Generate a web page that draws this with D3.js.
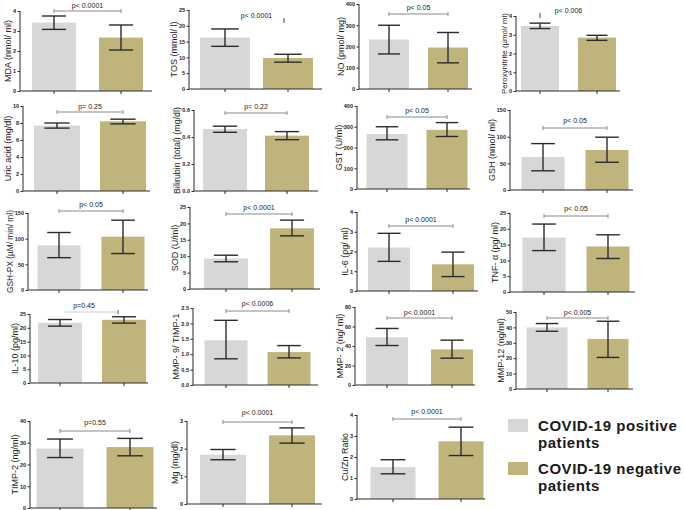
<!DOCTYPE html>
<html><head><meta charset="utf-8">
<script src="https://cdn.jsdelivr.net/npm/d3@7"></script>
<style>
body{margin:0;background:#fff;}
svg{display:block;font-family:"Liberation Sans",Arial,sans-serif;}
</style></head>
<body><svg id="c" width="685" height="510"></svg>
<script>
// ---------- data ----------
const groups = ["COVID-19 positive patients", "COVID-19 negative patients"];
const yLabels = ["MDA (nmol/ ml)", "TOS (mmol/ l)", "NO (pmol/ mg)", "Peroxynitrite (\u00b5mol/ ml)",
  "Uric acid (mg/dl)", "Bilirubin (total) (mg/dl)", "GST (U/ml)", "GSH (nmol/ ml)",
  "GSH-PX (\u00b5M/ min/ ml)", "SOD (U/ml)", "IL-6 (pg/ ml)", "TNF- \u03b1 (pg/ ml)",
  "IL-10 (pg/ml)", "MMP- 9/ TIMP-1", "MMP- 2 (ng/ ml)", "MMP-12 (ng/ml)",
  "TIMP-2 (ng/ml)", "Mg (mg/dl)", "Cu/Zn Ratio"];
const yMax  = [4, 25, 400, 4, 10, 0.6, 400, 150, 150, 25, 4, 25, 25, 2.5, 80, 50, 40, 3, 4];
const yStep = [1, 5, 100, 1, 2, 0.2, 100, 50, 50, 5, 1, 5, 5, 0.5, 20, 10, 10, 1, 1];
const tickFormats = ["d","d","d","d","d",".1f","d","d","d","d","d","d","d",".1f","d","d","d","d","d"];
const posMean = [3.42, 16.3, 233, 3.47, 7.7, 0.46, 265, 62, 87, 9.3, 2.2, 17.2, 21.8, 1.45, 49, 40, 27.3, 1.78, 1.52];
const posLo   = [3.08, 13.5, 165, 3.33, 7.4, 0.435, 237, 36, 63, 8.3, 1.5, 13.1, 20.6, 0.85, 40.5, 37.5, 23.2, 1.6, 1.2];
const posHi   = [3.75, 19.0, 300, 3.62, 8.0, 0.48, 300, 87, 112, 10.3, 2.92, 21.5, 23.0, 2.1, 58, 42.5, 31.7, 1.97, 1.87];
const negMean = [2.67, 9.8, 195, 2.85, 8.2, 0.41, 285, 75, 104, 18.5, 1.35, 14.4, 22.9, 1.07, 36.5, 32.5, 28.0, 2.48, 2.75];
const negLo   = [2.05, 8.5, 123, 2.7, 7.9, 0.38, 253, 52, 71, 16.2, 0.73, 10.6, 21.7, 0.88, 27.5, 20.5, 24.0, 2.2, 2.07];
const negHi   = [3.3, 11.0, 266, 2.97, 8.45, 0.44, 320, 99, 136, 21.0, 1.97, 18.1, 24.0, 1.28, 46, 44, 32, 2.75, 3.42];
const pTexts  = ["p< 0.0001", "p< 0.0001", "p< 0.05", "p< 0.006", "p= 0.25", "p= 0.22", "p< 0.05", "p< 0.05",
  "p< 0.05", "p< 0.0001", "p< 0.0001", "p< 0.05", "p=0.45", "p< 0.0006", "p< 0.0001", "p< 0.005",
  "p=0.55", "p< 0.0001", "p< 0.0001"];
const bracketKind = ["full","mark2","full","mark1","full","full","full","full","full","full","full","full",
  "faint","full","full","full","full","full","full"];
const legendLines = [["COVID-19 positive", "patients"], ["COVID-19 negative", "patients"]];

// ---------- layout (pixel geometry, separate from data) ----------
const layout = [
  {ax:20, c1:54, c2:121, bw:44, xe:152, yt:11, y0:91, by:11, ty:8},
  {ax:189,c1:225,c2:288, bw:50, xe:322, yt:10, y0:89, by:21, ty:18},
  {ax:359,c1:389,c2:448, bw:40, xe:472, yt:4,  y0:89, by:14, ty:10},
  {ax:516,c1:540,c2:597, bw:38, xe:620, yt:16, y0:91, by:16, ty:13},
  {ax:23, c1:57, c2:123, bw:46, xe:150, yt:106,y0:191,by:112,ty:109},
  {ax:194,c1:225,c2:287, bw:44, xe:318, yt:110,y0:191,by:113,ty:109},
  {ax:357,c1:387,c2:447, bw:41, xe:470, yt:106,y0:189,by:117,ty:113},
  {ax:510,c1:543,c2:607, bw:43, xe:633, yt:110,y0:190,by:128,ty:123},
  {ax:28, c1:59, c2:123, bw:43, xe:148, yt:213,y0:290,by:211,ty:207},
  {ax:190,c1:226,c2:292, bw:44, xe:320, yt:207,y0:289,by:214,ty:210},
  {ax:357,c1:389,c2:453, bw:42, xe:478, yt:212,y0:291,by:226,ty:222},
  {ax:510,c1:544,c2:608, bw:43, xe:635, yt:213,y0:292,by:216,ty:211},
  {ax:30, c1:60, c2:124, bw:44, xe:148, yt:314,y0:383,by:312,ty:308},
  {ax:193,c1:226,c2:289, bw:43, xe:318, yt:308,y0:385,by:311,ty:306},
  {ax:355,c1:387,c2:452, bw:42, xe:475, yt:307,y0:385,by:318,ty:315},
  {ax:516,c1:547,c2:608, bw:41, xe:633, yt:312,y0:389,by:318,ty:315},
  {ax:30, c1:60, c2:130, bw:47, xe:157, yt:421,y0:508,by:431,ty:425},
  {ax:187,c1:223,c2:292, bw:46, xe:322, yt:421,y0:504,by:422,ty:415},
  {ax:357,c1:393,c2:461, bw:45, xe:485, yt:415,y0:499,by:419,ty:414}
];
const colors = ["#d7d7d7", "#bfb57c"];
const ink = "#2b2b2b";

const svg = d3.select("#c");

yLabels.forEach((lab, i) => {
  const L = layout[i];
  const g = svg.append("g");
  const y = d3.scaleLinear().domain([0, yMax[i]]).range([L.y0, L.yt]);
  const pad = (L.c2 - L.c1 - L.bw) / (L.c2 - L.c1);
  const x = d3.scaleBand().domain(groups)
    .range([L.c1 - L.bw / 2, L.c2 + L.bw / 2]).paddingInner(pad).paddingOuter(0);
  const means = [posMean[i], negMean[i]], lo = [posLo[i], negLo[i]], hi = [posHi[i], negHi[i]];

  g.selectAll("rect.bar").data(groups).join("rect")
    .attr("x", d => x(d)).attr("width", x.bandwidth())
    .attr("y", (d, k) => y(means[k])).attr("height", (d, k) => y(0) - y(means[k]))
    .attr("fill", (d, k) => colors[k]);

  const cap = x.bandwidth() * 0.55;
  groups.forEach((d, k) => {
    const cx = x(d) + x.bandwidth() / 2;
    const eg = g.append("g").attr("stroke", ink).attr("stroke-width", 1.4).attr("fill", "none");
    eg.append("line").attr("x1", cx).attr("x2", cx).attr("y1", y(lo[k])).attr("y2", y(hi[k]));
    eg.append("line").attr("x1", cx - cap / 2).attr("x2", cx + cap / 2).attr("y1", y(hi[k])).attr("y2", y(hi[k]));
    eg.append("line").attr("x1", cx - cap / 2).attr("x2", cx + cap / 2).attr("y1", y(lo[k])).attr("y2", y(lo[k]));
  });

  const ticks = d3.range(0, yMax[i] + yStep[i] / 2, yStep[i]);
  const ya = g.append("g").attr("transform", `translate(${L.ax},0)`)
    .call(d3.axisLeft(y).tickValues(ticks).tickFormat(d3.format(tickFormats[i])).tickSize(2.5).tickPadding(1.5));
  ya.select(".domain").attr("stroke", ink).attr("d", `M0,${L.y0}V${L.yt}`);
  ya.selectAll(".tick line").attr("stroke", ink);
  ya.selectAll(".tick text").attr("font-size", 5.5).attr("fill", "#222").attr("font-weight", "bold");
  const yb = ya.node().getBBox();

  const xa = g.append("g").attr("transform", `translate(0,${L.y0})`)
    .call(d3.axisBottom(x).tickSize(3).tickFormat(""));
  xa.select(".domain").attr("stroke", ink).attr("d", `M${L.ax},0H${L.xe}`);
  xa.selectAll(".tick line").attr("stroke", ink);

  // y label: 9px, shrunk to fit the axis height when long
  const lt = g.append("text")
    .attr("transform", `translate(${L.ax + yb.x - 2},${(L.y0 + L.yt) / 2}) rotate(-90)`)
    .attr("text-anchor", "middle").attr("font-size", 9).attr("fill", "#222").text(lab);
  const room = (L.y0 - L.yt) + 6;
  const len = lt.node().getComputedTextLength();
  if (len > room) lt.attr("font-size", 9 * room / len);

  const c1 = x(groups[0]) + x.bandwidth() / 2, c2 = x(groups[1]) + x.bandwidth() / 2;
  const kind = bracketKind[i];
  if (kind === "full" || kind === "faint") {
    const bg = g.append("g").attr("stroke", kind === "faint" ? "#cccccc" : "#8a8a8a").attr("stroke-width", 1).attr("fill", "none");
    const bx1 = kind === "faint" ? c1 + 5 : c1, bx2 = kind === "faint" ? c2 - 6 : c2;
    bg.append("line").attr("x1", bx1).attr("x2", bx2).attr("y1", L.by).attr("y2", L.by);
    if (kind === "full") bg.append("line").attr("x1", bx1).attr("x2", bx1).attr("y1", L.by - 2).attr("y2", L.by + 2);
    bg.append("line").attr("x1", bx2).attr("x2", bx2).attr("y1", L.by - 2).attr("y2", L.by + 2)
      .attr("stroke", kind === "faint" ? "#555" : null);
  } else {
    const mx = kind === "mark1" ? c1 : c2 - 4;
    g.append("line").attr("x1", mx).attr("x2", mx).attr("y1", L.by - 3).attr("y2", L.by + 2)
      .attr("stroke", "#444").attr("stroke-width", 1);
  }
  g.append("text").attr("x", kind === "faint" ? (c1 + c2) / 2 - 8 : (c1 + c2) / 2).attr("y", L.ty)
    .attr("text-anchor", "middle").attr("font-size", 7).attr("fill", "#222").text(pTexts[i]);
});

// legend
const lg = svg.append("g");
const legY = d3.scalePoint().domain(groups).range([419, 462]);
groups.forEach((gname, k) => {
  lg.append("rect").attr("x", 508).attr("y", legY(gname)).attr("width", 20).attr("height", 13).attr("fill", colors[k]);
  lg.append("text").attr("x", 538).attr("y", legY(gname) + 11.5)
    .attr("font-size", 15).attr("font-weight", "bold").attr("letter-spacing", 0.55).attr("fill", "#1a1a1a")
    .text(legendLines[k][0]);
  lg.append("text").attr("x", 538).attr("y", legY(gname) + 29)
    .attr("font-size", 15).attr("font-weight", "bold").attr("letter-spacing", 0.55).attr("fill", "#1a1a1a")
    .text(legendLines[k][1]);
});
</script></body></html>
